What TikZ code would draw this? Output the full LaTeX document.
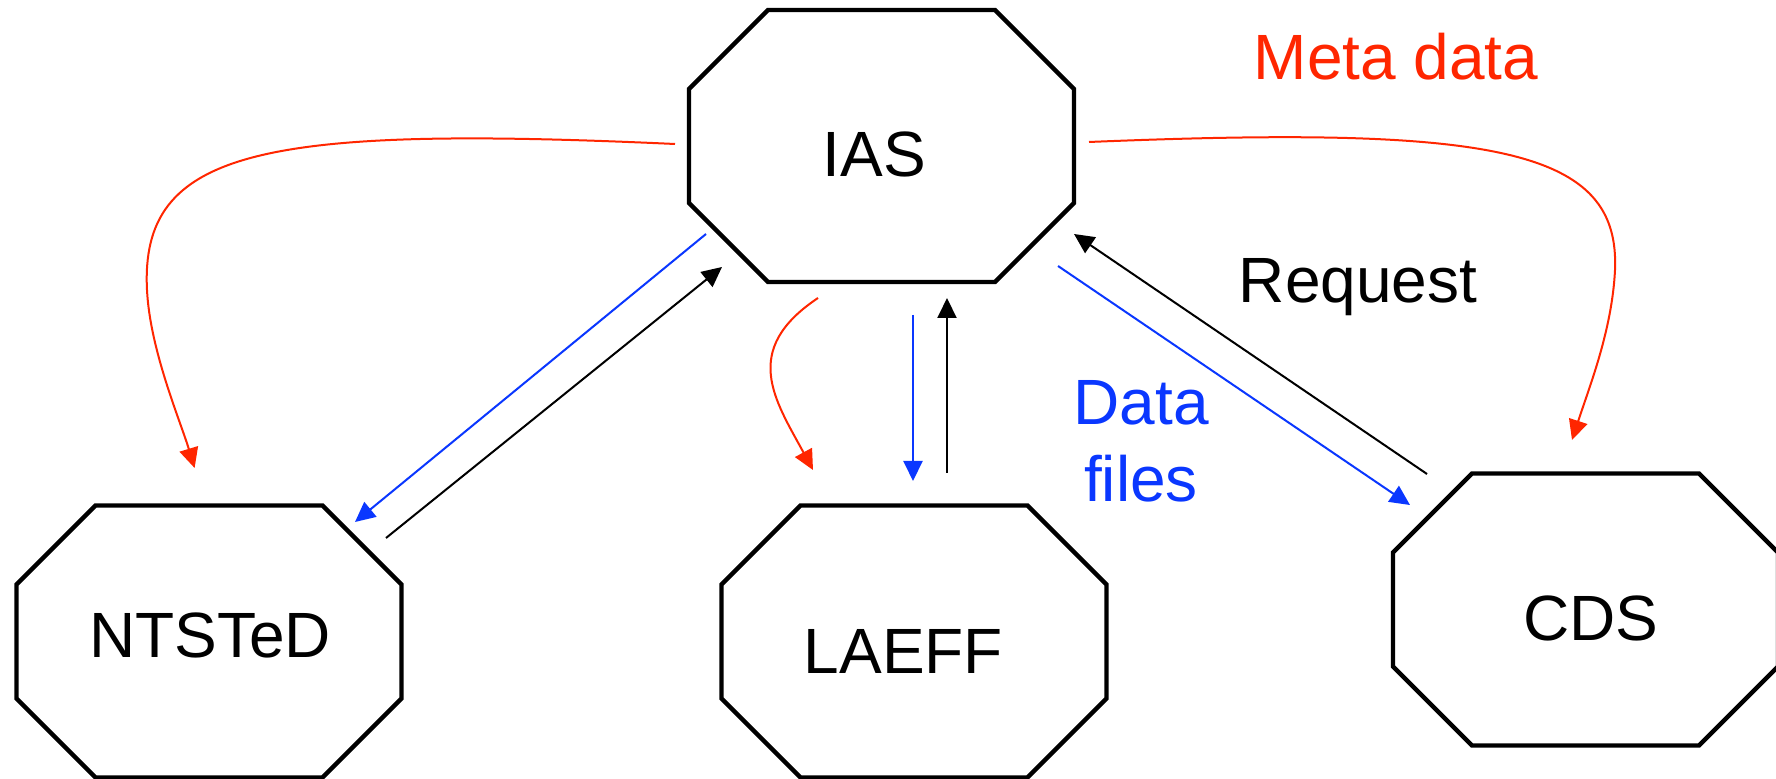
\documentclass[tikz,border=0pt]{standalone}
\usepackage{fontspec}
\setmainfont{Liberation Sans}
\usetikzlibrary{arrows.meta,calc}
\definecolor{mred}{RGB}{255,38,0}
\definecolor{mblue}{RGB}{10,55,255}
\newcommand{\octpath}[1]{%
  \draw[octline] ([xshift=39.5pt]#1.north west) -- ([xshift=-39.5pt]#1.north east)
    -- ([yshift=-39.5pt]#1.north east) -- ([yshift=39.5pt]#1.south east)
    -- ([xshift=-39.5pt]#1.south east) -- ([xshift=39.5pt]#1.south west)
    -- ([yshift=39.5pt]#1.south west) -- ([yshift=-39.5pt]#1.north west) -- cycle;}
\begin{document}
\begin{tikzpicture}[x=0.5pt,y=-0.5pt,
  box/.style={draw=none, rectangle, minimum width=192.5pt, minimum height=136pt, inner sep=0pt, outer sep=0pt},
  octline/.style={line width=2.2pt, line join=miter, black},
  lbl/.style={font=\fontsize{32}{38}\selectfont, inner sep=0pt, anchor=base},
  tipstyle/.style={-{Triangle[length=10pt,width=9.5pt]}},
  rd/.style={mred, line width=1pt, tipstyle},
  bl/.style={mblue, line width=1pt, tipstyle},
  bk/.style={black, line width=1pt, tipstyle}]
\useasboundingbox (0,0) rectangle (1776,779);
\fill[white] (0,0) rectangle (1776,779);
% octagon nodes
\node[box] (ias) at (881.5,146) {};
\node[box] (ntsted) at (209,641.5) {};
\node[box] (laeff) at (914,641.5) {};
\node[box] (cds) at (1585.5,609.5) {};
\octpath{ias}
\octpath{ntsted}
\octpath{laeff}
\octpath{cds}
% node texts
\node[lbl] (iasT) at (874.5,177) {IAS};
\node[lbl] (ntstedT) at (210,657) {NTSTeD};
\node[lbl] (laeffT) at (903.5,673) {LAEFF};
\node[lbl] (cdsT) at (1591,640) {CDS};
% labels
\node[lbl, text=mred] (meta) at (1396,80) {Meta data};
\node[lbl] (req) at (1358,303) {Request};
\node[lbl, text=mblue] (data1) at (1141,425) {Data};
\node[lbl, text=mblue] (data2) at (1141,502) {files};
% connector end points
\coordinate (r1s) at (675,144);
\coordinate (r1e) at (194.6,468);
\coordinate (r2s) at (818,298);
\coordinate (r2e) at (813,470);
\coordinate (r3s) at (1089,142);
\coordinate (r3e) at (1572,440);
\coordinate (b1s) at (706,234);
\coordinate (b1e) at (355,522);
\coordinate (k1s) at (386,538);
\coordinate (k1e) at (722,267);
\coordinate (b2s) at (913,315);
\coordinate (b2e) at (913,481);
\coordinate (k2s) at (947,473);
\coordinate (k2e) at (947,298);
\coordinate (b3s) at (1058,266);
\coordinate (b3e) at (1410,505);
\coordinate (k3s) at (1427,474);
\coordinate (k3e) at (1074,234);
% meta data curves
\draw[rd] (r1s) .. controls (260,125) and (140,150) .. (147,290) .. controls (150,350) and (180,420) .. (r1e);
\draw[rd] (r2s) .. controls (740,350) and (775,400) .. (r2e);
\draw[rd] (r3s) .. controls (1500,125) and (1620,150) .. (1615,270) .. controls (1612,330) and (1590,385) .. (r3e);
% data files
\draw[bl] (b1s) -- (b1e);
\draw[bl] (b2s) -- (b2e);
\draw[bl] (b3s) -- (b3e);
% requests
\draw[bk] (k1s) -- (k1e);
\draw[bk] (k2s) -- (k2e);
\draw[bk] (k3s) -- (k3e);
\end{tikzpicture}
\end{document}
